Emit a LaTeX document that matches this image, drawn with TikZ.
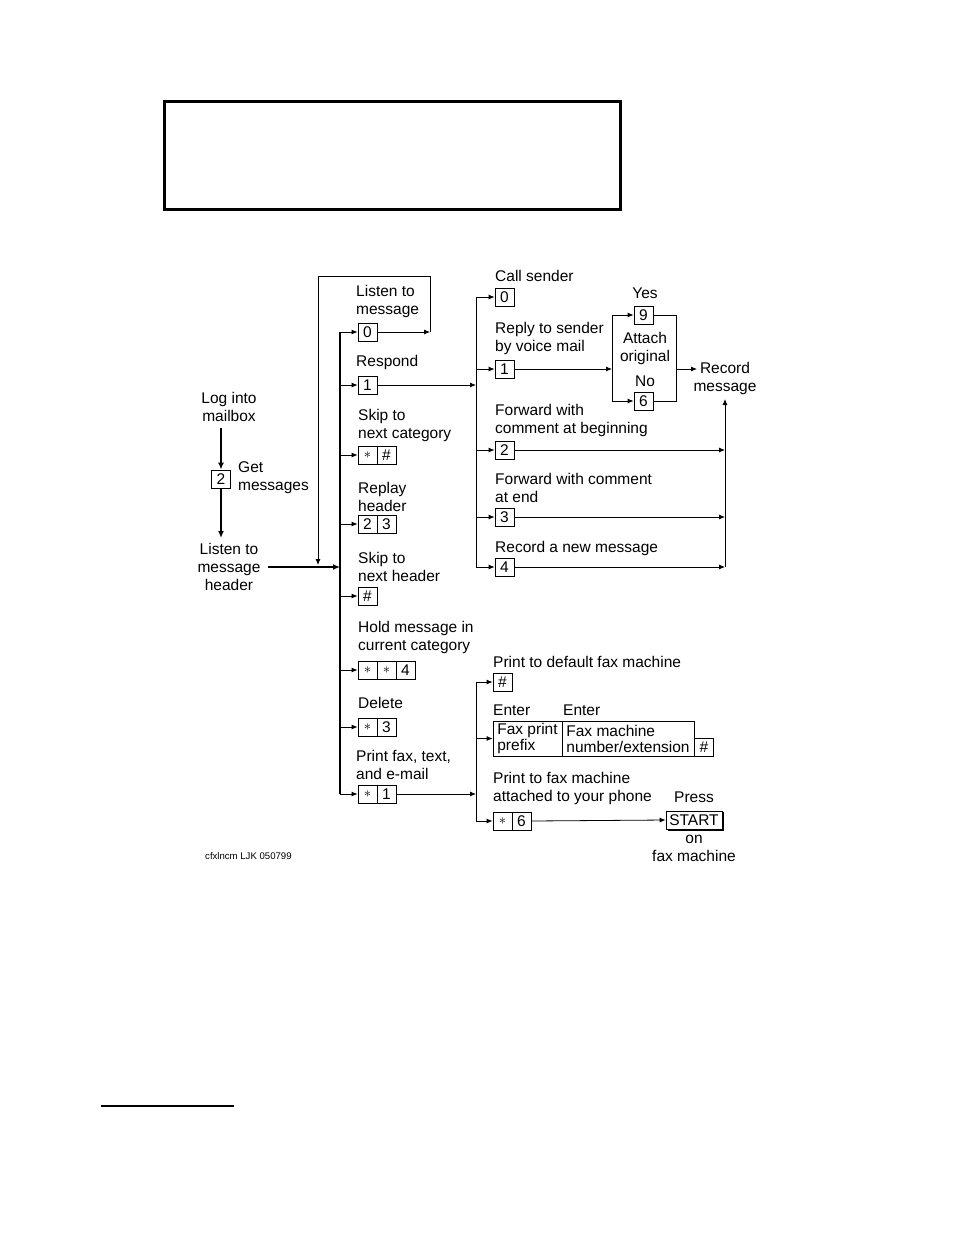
\documentclass[tikz,border=0pt]{standalone}
\usepackage{fontspec}
\setmainfont{Liberation Sans}
\usetikzlibrary{arrows.meta}
\begin{document}
\begin{tikzpicture}[x=1pt,y=-1pt,
 lbl/.style={font=\fontsize{15.5}{18}\selectfont, inner sep=0pt, align=left, anchor=west},
 lblc/.style={font=\fontsize{15.5}{18}\selectfont, inner sep=0pt, align=center},
 key/.style={draw, line width=0.8pt, minimum width=19pt, minimum height=18pt, inner sep=0pt, font=\fontsize{15.5}{18}\selectfont},
 thinln/.style={line width=0.8pt},
 thinarr/.style={line width=0.8pt, -{Latex[length=6pt,width=5pt]}},
 thickarr/.style={line width=2pt, -{Latex[length=7pt,width=6pt]}},
 thickln/.style={line width=2pt},
]
\useasboundingbox (0,0) rectangle (954,1235);

% top empty frame and footnote rule
\node[draw, line width=3pt, minimum width=456pt, minimum height=108pt, inner sep=0pt] (topbox) at (392,155) {};
\coordinate (fnl) at (101,1106);
\coordinate (fnr) at (234,1106);
\draw[thickln] (fnl) -- (fnr);

% left column
\node[lblc] (login) at (229,407) {Log into\\mailbox};
\node[key] (k2) at (221,479) {2};
\node[lbl] (get) at (238,478) {Get\\messages};
\node[lblc] (lhdr) at (229,567) {Listen to\\message\\header};
\coordinate (logbot) at (221,428);
\coordinate (hdrtop) at (221,538);
\draw[thickarr] (logbot) -- (k2.north);
\draw[thickarr] (k2.south) -- (hdrtop);
\coordinate (hdrout) at (268,567);
\coordinate (m567) at (340,567);
\draw[thickarr] (hdrout) -- (m567);

% main vertical
\coordinate (mtop) at (340,332);
\coordinate (mbot) at (340,794);
\draw[thickln] (mtop) -- (mbot);

% middle column labels
\node[lbl] at (356,301) {Listen to\\message};
\node[lbl] at (356,362) {Respond};
\node[lbl] at (358,425) {Skip to\\next category};
\node[lbl] at (358,497) {Replay\\header};
\node[lbl] at (358,567) {Skip to\\next header};
\node[lbl] at (358,637) {Hold message in\\current category};
\node[lbl] at (358,703) {Delete};
\node[lbl] at (356,765) {Print fax, text,\\and e-mail};

% middle column keys
\node[key] (k0) at (367.5,332) {0};
\node[key] (r1) at (367.5,385) {1};
\node[key] (sc1) at (367.5,455) {$\ast$};
\node[key] (sc2) at (386.5,455) {$\#$};
\node[key] (rh1) at (367.5,524) {2};
\node[key] (rh2) at (386.5,524) {3};
\node[key] (sh1) at (367.5,596) {$\#$};
\node[key] (hd1) at (367.5,670) {$\ast$};
\node[key] (hd2) at (386.5,670) {$\ast$};
\node[key] (hd3) at (405.5,670) {4};
\node[key] (de1) at (367.5,727) {$\ast$};
\node[key] (de2) at (386.5,727) {3};
\node[key] (pf1) at (367.5,794) {$\ast$};
\node[key] (pf2) at (386.5,794) {1};

\foreach \k in {k0,r1,sc1,rh1,sh1,hd1,de1,pf1}
  \draw[thinarr] (mtop |- \k.west) -- (\k.west);

% loop back from Listen to message
\coordinate (loopr) at (430,332);
\coordinate (looptr) at (430,276);
\coordinate (looptl) at (318,276);
\coordinate (loopend) at (318,565);
\draw[thinarr] (k0.east) -- (loopr);
\draw[thinarr] (loopr) -- (looptr) -- (looptl) -- (loopend);

% respond branch
\coordinate (ru385) at (476,385);
\coordinate (rutop) at (476,297);
\coordinate (rubot) at (476,567);
\draw[thinarr] (r1.east) -- (ru385);
\draw[thinln] (rutop) -- (rubot);

\node[lbl] at (495,276) {Call sender};
\node[lbl] at (495,338) {Reply to sender\\by voice mail};
\node[lbl] at (495,420) {Forward with\\comment at beginning};
\node[lbl] at (495,488) {Forward with comment\\at end};
\node[lbl] at (495,548) {Record a new message};

\node[key] (cs0) at (504.5,297) {0};
\node[key] (rp1) at (504.5,369) {1};
\node[key] (fw2) at (504.5,450) {2};
\node[key] (fe3) at (504.5,517) {3};
\node[key] (rn4) at (504.5,567) {4};
\foreach \k in {cs0,rp1,fw2,fe3,rn4}
  \draw[thinarr] (rutop |- \k.west) -- (\k.west);

% attach original
\node[key] (y9) at (643.5,315) {9};
\node[key] (n6) at (643.5,401) {6};
\node[lblc] at (645,293) {Yes};
\node[lblc] at (645,381) {No};
\node[lblc] at (645,348) {Attach\\original};
\coordinate (sp) at (612,369);
\draw[thinarr] (rp1.east) -- (sp);
\draw[thinln] (sp |- y9.west) -- (sp |- n6.west);
\draw[thinarr] (sp |- y9.west) -- (y9.west);
\draw[thinarr] (sp |- n6.west) -- (n6.west);
\coordinate (brt) at (676,315);
\coordinate (brb) at (676,401);
\coordinate (brm) at (676,369);
\draw[thinln] (y9.east) -- (brt) -- (brb) -- (n6.east);
\node[lblc] (rec) at (725,378) {Record\\message};
\coordinate (recin) at (697,369);
\draw[thinarr] (brm) -- (recin);
\coordinate (recbot) at (725,399);
\draw[thinarr] (fw2.east) -- (fw2.east -| recbot);
\draw[thinarr] (fe3.east) -- (fe3.east -| recbot);
\draw[thinarr] (rn4.east) -- (rn4.east -| recbot);
\draw[thinarr] (rn4.east -| recbot) -- (recbot);

% print branch
\coordinate (pr794) at (476,794);
\coordinate (prtop) at (476,682);
\coordinate (prbot) at (476,821);
\draw[thinarr] (pf2.east) -- (pr794);
\draw[thinln] (prtop) -- (prbot);

\node[lbl] at (493,662) {Print to default fax machine};
\node[key] (pd) at (502.5,682) {$\#$};
\node[lbl] at (493,710) {Enter};
\node[lbl] at (563,710) {Enter};
\node[draw, line width=0.8pt, minimum width=69pt, minimum height=35pt, inner sep=0pt, align=left,
      font=\fontsize{15.5}{16}\selectfont] (fp) at (527.5,738.5) {Fax print\\prefix};
\node[draw, line width=0.8pt, minimum width=132pt, minimum height=35pt, inner sep=0pt, align=left,
      font=\fontsize{15.5}{16}\selectfont] (fm) at (628,738.5) {Fax machine\\number/extension};
\node[key] (fh) at (704,747) {$\#$};
\node[lbl] at (493,788) {Print to fax machine\\attached to your phone};
\node[lblc] at (694,797) {Press};
\node[key] (p6a) at (502.5,821) {$\ast$};
\node[key] (p6b) at (521.5,821) {6};
\node[key, minimum width=56pt] (st) at (694,820) {START};
\draw[line width=2pt] ([xshift=1pt,yshift=-1pt]st.north east) -- ([xshift=1pt,yshift=-1pt]st.south east) -- ([xshift=2pt,yshift=-1pt]st.south west);
\node[lblc] at (694,848) {on\\fax machine};

\draw[thinarr] (prtop) -- (pd.west);
\draw[thinarr] (prtop |- fp.west) -- (fp.west);
\draw[thinarr] (prbot) -- (p6a.west);
\draw[thinarr] (p6b.east) -- (st.west);

% footer code
\node[font=\fontsize{9.6}{11}\selectfont, anchor=west, inner sep=0pt] (code) at (205,856) {cfxlncm LJK 050799};
\end{tikzpicture}
\end{document}
